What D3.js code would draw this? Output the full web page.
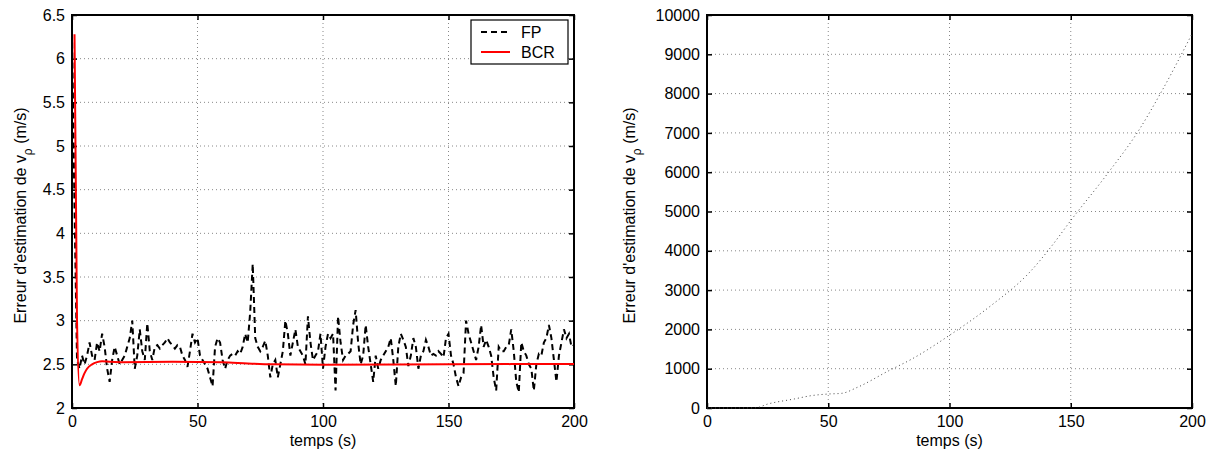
<!DOCTYPE html>
<html><head><meta charset="utf-8">
<script src="https://cdn.jsdelivr.net/npm/d3@7"></script>
<style>body{margin:0;background:#fff}svg{display:block}text{font-family:"Liberation Sans",Arial,sans-serif}</style>
</head><body><svg id="c" width="1215" height="455"></svg>
<script>
// ---- data ----
const fpValues = [6.3,4.3,2.55,2.45,2.6,2.5,2.6,2.75,2.6,2.55,2.75,2.65,2.85,2.7,2.45,2.3,2.55,2.7,2.6,2.5,
2.55,2.6,2.7,2.8,3.0,2.45,2.6,2.9,2.65,2.55,2.97,2.65,2.55,2.7,2.72,2.68,2.72,2.75,2.8,2.75,
2.72,2.68,2.72,2.7,2.6,2.55,2.47,2.65,2.85,2.75,2.8,2.6,2.55,2.5,2.45,2.35,2.25,2.7,2.8,2.75,
2.55,2.45,2.55,2.6,2.62,2.6,2.65,2.62,2.7,2.85,2.75,3.1,3.65,2.8,2.7,2.65,2.7,2.77,2.6,2.35,
2.5,2.55,2.35,2.5,2.65,3.0,2.85,2.6,2.75,2.9,2.7,2.65,2.6,2.5,3.05,2.75,2.55,2.6,2.65,2.85,
2.45,2.7,2.85,2.8,2.85,2.2,3.05,2.75,2.55,2.6,2.62,2.65,2.95,3.12,2.75,2.5,2.6,2.95,2.7,2.5,
2.3,2.6,2.45,2.55,2.6,2.65,2.7,2.8,2.55,2.25,2.7,2.85,2.78,2.7,2.48,2.6,2.8,2.7,2.45,2.6,
2.65,2.78,2.7,2.6,2.62,2.6,2.65,2.62,2.58,2.8,2.85,2.6,2.5,2.35,2.25,2.35,2.4,3.0,2.85,2.75,
2.65,2.55,2.7,2.95,2.7,2.78,2.7,2.6,2.35,2.2,2.7,2.65,2.65,2.7,2.72,2.9,2.65,2.3,2.18,2.75,
2.65,2.6,2.5,2.45,2.2,2.5,2.62,2.6,2.75,2.8,2.95,2.8,2.55,2.3,2.6,2.75,2.9,2.8,2.85,2.7,2.72];
const bcrTime = [1,2,3,4,5,6,8,10,12,15,20,40,60,70,80,100,150,200];
const bcrValues = [6.28,3.0,2.26,2.33,2.4,2.45,2.5,2.525,2.535,2.53,2.525,2.53,2.525,2.51,2.5,2.495,2.5,2.505];
const rightTime = [0,10,20,25,36,43,50,55.5,62,75,84.5,100,117,133,142.5,150,165,178,187.6,200];
const rightValues = [0,0,5,100,230,314,356,373,526,950,1247,1850,2600,3450,4150,4770,5950,7060,8070,9520];
const xTicks = [0,50,100,150,200];
const yTicksLeft = [2,2.5,3,3.5,4,4.5,5,5.5,6,6.5];
const yTicksRight = [0,1000,2000,3000,4000,5000,6000,7000,8000,9000,10000];
const legendLabels = ["FP","BCR"];
const xLabel = "temps (s)";

const svg = d3.select("#c");
const FS = 16;

function panel(box, yDomain, yTicks, yFmt, labelX) {
  const x = d3.scaleLinear().domain([0,200]).range([box.x0, box.x1]);
  const y = d3.scaleLinear().domain(yDomain).range([box.y1, box.y0]);
  const g = svg.append("g");
  // grid
  g.selectAll(".gx").data(xTicks.slice(1,-1)).join("line")
    .attr("x1", d=>x(d)).attr("x2", d=>x(d)).attr("y1", box.y0).attr("y2", box.y1)
    .attr("stroke","#888").attr("stroke-width",1).attr("stroke-dasharray","1,3");
  g.selectAll(".gy").data(yTicks.slice(1,-1)).join("line")
    .attr("y1", d=>y(d)).attr("y2", d=>y(d)).attr("x1", box.x0).attr("x2", box.x1)
    .attr("stroke","#888").attr("stroke-width",1).attr("stroke-dasharray","1,3");
  // axes
  const ax = [
    [d3.axisBottom(x).tickValues(xTicks).tickSizeInner(-5).tickSizeOuter(0).tickPadding(8), `translate(0,${box.y1})`],
    [d3.axisTop(x).tickValues(xTicks).tickSizeInner(-5).tickSizeOuter(0).tickFormat(""), `translate(0,${box.y0})`],
    [d3.axisLeft(y).tickValues(yTicks).tickSizeInner(-5).tickSizeOuter(0).tickPadding(7).tickFormat(yFmt), `translate(${box.x0},0)`],
    [d3.axisRight(y).tickValues(yTicks).tickSizeInner(-5).tickSizeOuter(0).tickFormat(""), `translate(${box.x1},0)`]
  ];
  ax.forEach(([a,t]) => {
    const ag = g.append("g").attr("transform", t).call(a);
    ag.select(".domain").remove();
    ag.selectAll("line").attr("stroke","#000").attr("stroke-width",1.5);
    ag.selectAll("text").attr("fill","#000").style("font-size", FS+"px")
      .style("font-family",'"Liberation Sans",Arial,sans-serif');
  });
  // frame
  g.append("rect").attr("x", box.x0).attr("y", box.y0).attr("width", box.x1-box.x0).attr("height", box.y1-box.y0)
    .attr("fill","none").attr("stroke","#000").attr("stroke-width",2);
  // labels
  g.append("text").attr("x",(box.x0+box.x1)/2).attr("y",446).attr("text-anchor","middle")
    .style("font-size",FS+"px").text(xLabel);
  const yl = g.append("text").attr("transform",`translate(${labelX},${(box.y0+box.y1)/2+4}) rotate(-90)`)
    .attr("text-anchor","middle").style("font-size",FS+"px");
  yl.append("tspan").text("Erreur d'estimation de v");
  yl.append("tspan").attr("dy",6).style("font-size","12px").text("ρ");
  yl.append("tspan").attr("dy",-6).text(" (m/s)");
  return {x,y,g};
}

// Left panel
const L = panel({x0:72,x1:574,y0:15,y1:408},[2,6.5],yTicksLeft,d3.format(""),26);
svg.append("clipPath").attr("id","clL").append("rect").attr("x",72).attr("y",15).attr("width",502).attr("height",393);
const fpData = fpValues.map((v,i)=>[i,v]);
svg.append("path").datum(fpData).attr("clip-path","url(#clL)")
  .attr("d", d3.line().x(d=>L.x(d[0])).y(d=>L.y(d[1])))
  .attr("fill","none").attr("stroke","#000").attr("stroke-width",2).attr("stroke-dasharray","6,4");
svg.append("path").datum(bcrTime.map((t,i)=>[t,bcrValues[i]])).attr("clip-path","url(#clL)")
  .attr("d", d3.line().x(d=>L.x(d[0])).y(d=>L.y(d[1])).curve(d3.curveMonotoneX))
  .attr("fill","none").attr("stroke","#ff0000").attr("stroke-width",2);
// legend
const lg = svg.append("g");
lg.append("rect").attr("x",471).attr("y",20).attr("width",97).attr("height",44)
  .attr("fill","#fff").attr("stroke","#000").attr("stroke-width",1.2);
const lgStyles = [{c:"#000",d:"6,4"},{c:"#ff0000",d:null}];
legendLabels.forEach((lab,i)=>{
  const yy = 32 + i*20;
  lg.append("line").attr("x1",481).attr("x2",510).attr("y1",yy).attr("y2",yy)
    .attr("stroke",lgStyles[i].c).attr("stroke-width",2).attr("stroke-dasharray",lgStyles[i].d);
  lg.append("text").attr("x",521).attr("y",yy+6).style("font-size",FS+"px").text(lab);
});

// Right panel
const R = panel({x0:707,x1:1192,y0:15,y1:408},[0,10000],yTicksRight,d3.format(""),635);
svg.append("path").datum(rightTime.map((t,i)=>[t,rightValues[i]]))
  .attr("d", d3.line().x(d=>R.x(d[0])).y(d=>R.y(d[1])).curve(d3.curveMonotoneX))
  .attr("fill","none").attr("stroke","#444").attr("stroke-width",1).attr("stroke-dasharray","1,3");
</script></body></html>
